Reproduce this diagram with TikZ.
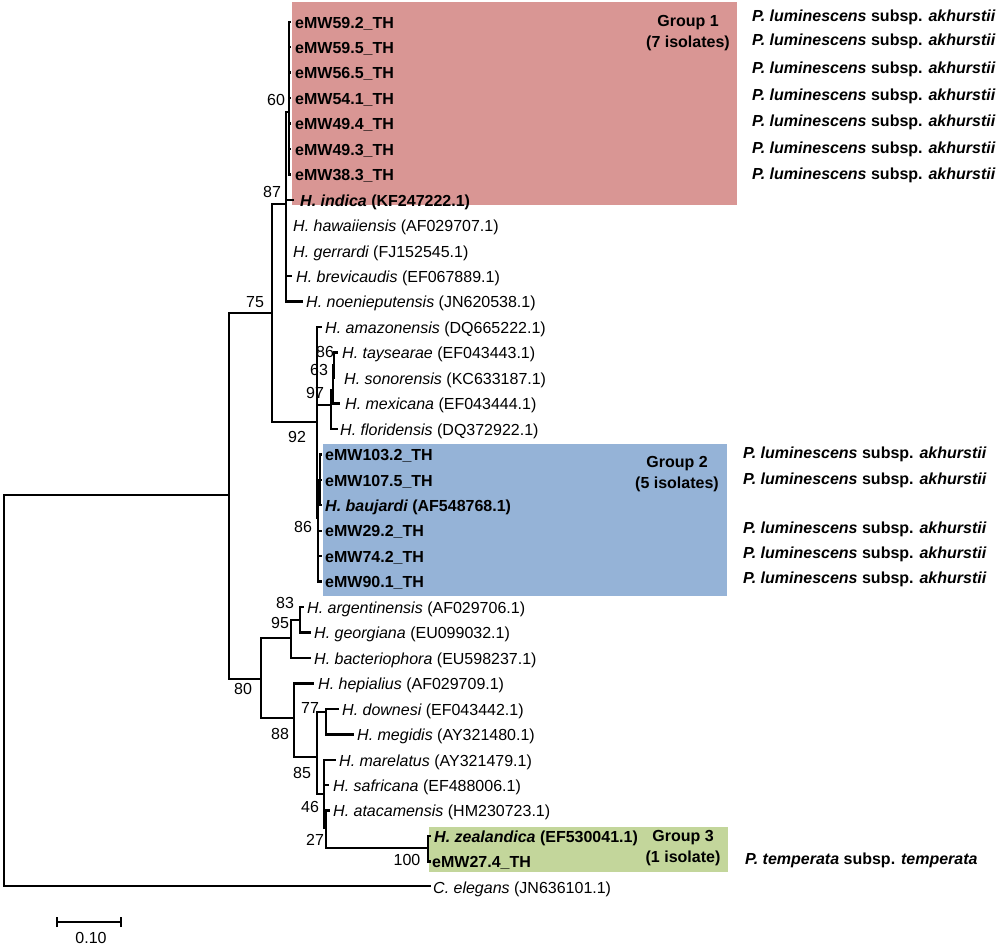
\documentclass[tikz,border=0pt]{standalone}
\usepackage{fontspec}
\setmainfont{Liberation Sans}
\definecolor{gA}{HTML}{D99694}
\definecolor{gB}{HTML}{95B3D7}
\definecolor{gC}{HTML}{C3D69B}
\newcommand{\spn}[2]{{\itshape #1} #2}
\newcommand{\plak}{{\itshape P. luminescens} subsp. {\itshape akhurstii}}
\begin{document}
\begin{tikzpicture}[x=1pt,y=-1pt,
 br/.style={line width=2.4pt, line cap=rect},
 lf/.style={anchor=base west, inner sep=0pt, font=\fontsize{16}{19}\selectfont},
 bl/.style={lf, font=\fontsize{16}{19}\selectfont\bfseries},
 bs/.style={inner sep=0pt, font=\fontsize{16}{18}\selectfont},
 gl/.style={align=center, inner sep=0pt, font=\fontsize{16}{21}\selectfont\bfseries}]
\useasboundingbox (0,0) rectangle (1000,945);
% group boxes
\fill[gA] (292,2) rectangle (737,205);
\fill[gB] (323,444) rectangle (727,596);
\fill[gC] (429,827) rectangle (728,872);
% coordinates
\coordinate (R) at (4,495);
\coordinate (In) at (229,495);
\coordinate (Cel) at (430,886);
\coordinate (N75) at (272,313);
\coordinate (N80) at (261,679);
\coordinate (N87) at (286,204);
\coordinate (N92) at (317,422);
\coordinate (N60) at (289,112);
\coordinate (t0) at (290,21.7);
\coordinate (t1) at (290,47.15);
\coordinate (t2) at (290,72.6);
\coordinate (t3) at (290,98.05);
\coordinate (t4) at (290,123.5);
\coordinate (t5) at (290,148.95);
\coordinate (t6) at (290,174.4);
\coordinate (tInd) at (293,199.85);
\coordinate (tHaw) at (286,225.3);
\coordinate (tGer) at (286,250.75);
\coordinate (tBre) at (291,276.2);
\coordinate (tNoe) at (302,301.65);
\coordinate (tAma) at (321,327.1);
\coordinate (N97) at (331,405);
\coordinate (N63) at (333,390);
\coordinate (N86a) at (334,365);
\coordinate (tTay) at (337,352.55);
\coordinate (tSon) at (334,378);
\coordinate (tMex) at (339,403.45);
\coordinate (tFlo) at (337,428.9);
\coordinate (G2) at (318,518);
\coordinate (G2a) at (320,480);
\coordinate (t17) at (321,454.35);
\coordinate (t18) at (321,479.8);
\coordinate (t19) at (321,505.25);
\coordinate (t20) at (321,530.7);
\coordinate (t21) at (321,556.15);
\coordinate (t22) at (321,581.6);
\coordinate (N95) at (291,638);
\coordinate (N83) at (300,620);
\coordinate (tArg) at (303,607.05);
\coordinate (tGeo) at (310,632.5);
\coordinate (tBac) at (310,657.95);
\coordinate (N88) at (294,718);
\coordinate (tHep) at (313,683.4);
\coordinate (N85) at (317,757);
\coordinate (N77) at (326,712);
\coordinate (tDow) at (338,708.85);
\coordinate (tMeg) at (353,734.3);
\coordinate (N46) at (324,794);
\coordinate (tMar) at (335,759.75);
\coordinate (tSaf) at (328,785.2);
\coordinate (N27) at (326,828);
\coordinate (tAta) at (329,810.65);
\coordinate (G3) at (428,848);
\coordinate (tZea) at (430,836.1);
\coordinate (t274) at (430,861.55);
% branches
\draw[br] (R) |- (In);
\draw[br] (R) |- (Cel);
\draw[br] (In) |- (N75);
\draw[br] (In) |- (N80);
\draw[br] (N75) |- (N87);
\draw[br] (N75) |- (N92);
\draw[br] (N87) |- (N60);
\draw[br] (N87) |- (tInd);
\draw[br] (N87) |- (tHaw);
\draw[br] (N87) |- (tGer);
\draw[br] (N87) |- (tBre);
\draw[br] (N87) |- (tNoe);
\foreach \t in {t0,t1,t2,t3,t4,t5,t6} \draw[br] (N60) |- (\t);
\draw[br] (N92) |- (tAma);
\draw[br] (N92) |- (N97);
\draw[br] (N92) |- (G2);
\draw[br] (N97) |- (N63);
\draw[br] (N97) |- (tFlo);
\draw[br] (N63) |- (N86a);
\draw[br] (N63) |- (tMex);
\draw[br] (N86a) |- (tTay);
\draw[br] (N86a) |- (tSon);
\draw[br] (G2) |- (G2a);
\foreach \t in {t17,t18,t19} \draw[br] (G2a) |- (\t);
\foreach \t in {t20,t21,t22} \draw[br] (G2) |- (\t);
\draw[br] (N80) |- (N95);
\draw[br] (N80) |- (N88);
\draw[br] (N95) |- (N83);
\draw[br] (N95) |- (tBac);
\draw[br] (N83) |- (tArg);
\draw[br] (N83) |- (tGeo);
\draw[br] (N88) |- (tHep);
\draw[br] (N88) |- (N85);
\draw[br] (N85) |- (N77);
\draw[br] (N85) |- (N46);
\draw[br] (N77) |- (tDow);
\draw[br] (N77) |- (tMeg);
\draw[br] (N46) |- (tMar);
\draw[br] (N46) |- (tSaf);
\draw[br] (N46) |- (N27);
\draw[br] (N27) |- (tAta);
\draw[br] (N27) |- (G3);
\draw[br] (G3) |- (tZea);
\draw[br] (G3) |- (t274);
% leaf labels
\node[bl] (l0) at (295,28) {eMW59.2\_TH};
\node[bl] (l1) at (295,53) {eMW59.5\_TH};
\node[bl] (l2) at (295,78.5) {eMW56.5\_TH};
\node[bl] (l3) at (295,104) {eMW54.1\_TH};
\node[bl] (l4) at (295,129.5) {eMW49.4\_TH};
\node[bl] (l5) at (295,155) {eMW49.3\_TH};
\node[bl] (l6) at (295,180.5) {eMW38.3\_TH};
\node[bl] (l7) at (300,206) {\spn{H. indica}{(KF247222.1)}};
\node[lf] (l8) at (293,231.5) {\spn{H. hawaiiensis}{(AF029707.1)}};
\node[lf] (l9) at (293,257) {\spn{H. gerrardi}{(FJ152545.1)}};
\node[lf] (l10) at (296,282) {\spn{H. brevicaudis}{(EF067889.1)}};
\node[lf] (l11) at (306,307.5) {\spn{H. noenieputensis}{(JN620538.1)}};
\node[lf] (l12) at (325,333) {\spn{H. amazonensis}{(DQ665222.1)}};
\node[lf] (l13) at (342,358.5) {\spn{H. taysearae}{(EF043443.1)}};
\node[lf] (l14) at (344,384) {\spn{H. sonorensis}{(KC633187.1)}};
\node[lf] (l15) at (345,409.5) {\spn{H. mexicana}{(EF043444.1)}};
\node[lf] (l16) at (340,435) {\spn{H. floridensis}{(DQ372922.1)}};
\node[bl] (l17) at (325,460.5) {eMW103.2\_TH};
\node[bl] (l18) at (325,486) {eMW107.5\_TH};
\node[bl] (l19) at (325,511) {\spn{H. baujardi}{(AF548768.1)}};
\node[bl] (l20) at (325,536.5) {eMW29.2\_TH};
\node[bl] (l21) at (325,562) {eMW74.2\_TH};
\node[bl] (l22) at (325,587.5) {eMW90.1\_TH};
\node[lf] (l23) at (307,613) {\spn{H. argentinensis}{(AF029706.1)}};
\node[lf] (l24) at (314,638.5) {\spn{H. georgiana}{(EU099032.1)}};
\node[lf] (l25) at (314,664) {\spn{H. bacteriophora}{(EU598237.1)}};
\node[lf] (l26) at (318,689.5) {\spn{H. hepialius}{(AF029709.1)}};
\node[lf] (l27) at (342,715) {\spn{H. downesi}{(EF043442.1)}};
\node[lf] (l28) at (357,740.5) {\spn{H. megidis}{(AY321480.1)}};
\node[lf] (l29) at (339,766) {\spn{H. marelatus}{(AY321479.1)}};
\node[lf] (l30) at (333,791) {\spn{H. safricana}{(EF488006.1)}};
\node[lf] (l31) at (333,816.5) {\spn{H. atacamensis}{(HM230723.1)}};
\node[bl] (l32) at (434,842) {\spn{H. zealandica}{(EF530041.1)}};
\node[bl] (l33) at (432,867.5) {eMW27.4\_TH};
\node[lf] (l34) at (433,893) {\spn{C. elegans}{(JN636101.1)}};
% bootstrap values
\node[bs] (b60) at (276,100) {60};
\node[bs] (b87) at (272,192) {87};
\node[bs] (b75) at (255,302) {75};
\node[bs] (b86a) at (325,352) {86};
\node[bs] (b63) at (319,370) {63};
\node[bs] (b97) at (315,393) {97};
\node[bs] (b92) at (297,437) {92};
\node[bs] (b86b) at (303,527) {86};
\node[bs] (b83) at (285,603) {83};
\node[bs] (b95) at (280,623) {95};
\node[bs] (b80) at (243,689) {80};
\node[bs] (b77) at (310,708) {77};
\node[bs] (b88) at (280,734) {88};
\node[bs] (b85) at (302,773) {85};
\node[bs] (b46) at (310,807) {46};
\node[bs] (b27) at (315,840) {27};
\node[bs] (b100) at (407,860) {100};
% group captions
\node[gl] (g1) at (688,33) {Group 1\\(7 isolates)};
\node[gl] (g2) at (677,474) {Group 2\\(5 isolates)};
\node[gl] (g3) at (683,848) {Group 3\\(1 isolate)};
% symbiont labels
\node[bl] (p0) at (752,21) {\plak};
\node[bl] (p1) at (752,45) {\plak};
\node[bl] (p2) at (752,73) {\plak};
\node[bl] (p3) at (752,100) {\plak};
\node[bl] (p4) at (752,126) {\plak};
\node[bl] (p5) at (752,153) {\plak};
\node[bl] (p6) at (752,179) {\plak};
\node[bl] (p7) at (743,458) {\plak};
\node[bl] (p8) at (743,484) {\plak};
\node[bl] (p9) at (743,533) {\plak};
\node[bl] (p10) at (743,558) {\plak};
\node[bl] (p11) at (743,583) {\plak};
\node[bl] (p12) at (745,864) {{\itshape P. temperata} subsp. {\itshape temperata}};
% scale bar
\coordinate (s1) at (57,922);
\coordinate (s2) at (121,922);
\draw[line width=2.4pt] (s1) -- (s2);
\draw[line width=2.4pt] ([yshift=-5pt]s1) -- ([yshift=5pt]s1);
\draw[line width=2.4pt] ([yshift=-5pt]s2) -- ([yshift=5pt]s2);
\node[bs] (sl) at (91,938) {0.10};
\end{tikzpicture}
\end{document}
